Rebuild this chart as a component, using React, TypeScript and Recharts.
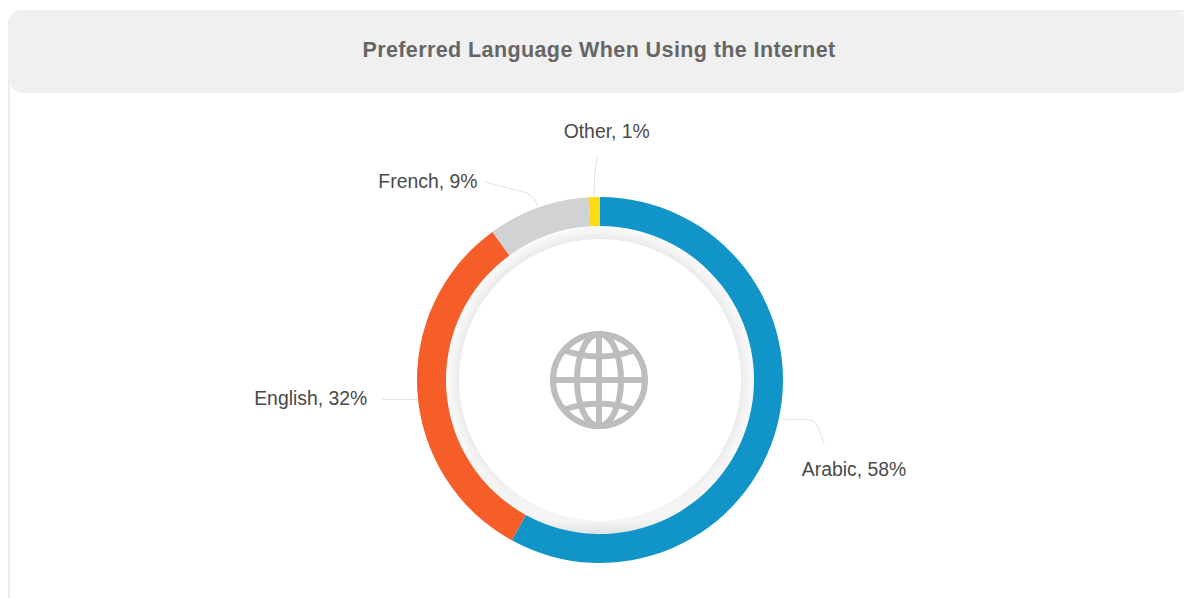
import { Pie, PieChart, Cell } from "recharts";

const languages = ["Arabic", "English", "French", "Other"];
const shares = [58, 32, 9, 1];
const colors = ["#1195c8", "#f55d29", "#d1d2d4", "#fedb11"];
const rows = languages.map((name, i) => ({ name, value: shares[i] }));
const ringData = [{ name: "ring", value: 1 }];

const RAD = Math.PI / 180;

// leader lines and label spots, relative to where the slice midpoint sits on the rim
const leaders: Record<string, { path: (x: number, y: number) => string; dx: number; dy: number; anchor: string }> = {
  Arabic: {
    path: (x, y) => `M${x + 5},${y - 6} L${x + 29},${y - 6} Q${x + 38},${y - 6} ${x + 41},${y + 2} L${x + 47},${y + 18}`,
    dx: 24.5,
    dy: 44,
    anchor: "start",
  },
  English: {
    path: (x, y) => `M${x},${y + 8} L${x - 35},${y + 8}`,
    dx: -50,
    dy: 8,
    anchor: "end",
  },
  French: {
    path: (x, y) => `M${x},${y} Q${x - 3},${y - 12} ${x - 12},${y - 15} L${x - 53},${y - 26}`,
    dx: -60.5,
    dy: -26,
    anchor: "end",
  },
  Other: {
    path: (x, y) => `M${x},${y} Q${x - 1},${y - 20} ${x + 3},${y - 40}`,
    dx: 12.5,
    dy: -65,
    anchor: "middle",
  },
};

function SliceLabel(props: any) {
  const { cx, cy, midAngle, outerRadius, name, value } = props;
  const x = cx + outerRadius * Math.cos(midAngle * RAD);
  const y = cy - outerRadius * Math.sin(midAngle * RAD);
  const l = leaders[name];
  return (
    <g>
      <path d={l.path(x, y)} fill="none" stroke="#e3e3e3" strokeWidth={1} />
      <text x={x + l.dx} y={y + l.dy} dy={6} textAnchor={l.anchor} fontSize={19.4} fill="#4a4a4a" fontFamily="Liberation Sans">
        {`${name}, ${value}%`}
      </text>
    </g>
  );
}

function Globe() {
  return (
    <svg width={100} height={100} viewBox="0 0 100 100" style={{ position: "absolute", left: 549, top: 330 }}>
      <g fill="none" stroke="#bcbdbf" strokeWidth={6}>
        <circle cx={50} cy={50} r={46} />
        <ellipse cx={50} cy={50} rx={22} ry={46} />
        <line x1={50} y1={4} x2={50} y2={96} />
        <line x1={4} y1={50} x2={96} y2={50} />
        <path d="M14,20 Q50,33 86,20" />
        <path d="M14,80 Q50,67 86,80" />
      </g>
    </svg>
  );
}

export default function App() {
  return (
    <div style={{ position: "absolute", left: 0, top: 0, width: 1184, height: 598, overflow: "hidden", background: "#fff" }}>
      <div style={{ position: "absolute", left: 8, top: 10, width: 1190, height: 600, border: "2px solid #ececec", borderRadius: 14, boxSizing: "border-box" }} />
      <div
        style={{
          position: "absolute",
          left: 9,
          top: 11,
          width: 1180,
          height: 82,
          background: "#f0f0f0",
          borderRadius: 14,
        }}
      />
      <div
        style={{
          position: "absolute",
          left: 9,
          top: 11,
          width: 1180,
          height: 78,
          lineHeight: "78px",
          textAlign: "center",
          fontFamily: "Liberation Sans",
          fontWeight: "bold",
          fontSize: 21.5,
          letterSpacing: 0.4,
          color: "#666666",
        }}
      >
        Preferred Language When Using the Internet
      </div>
      <div style={{ position: "absolute", left: 0, top: 0 }}>
        <PieChart width={1184} height={598} margin={{ top: 0, right: 0, bottom: 0, left: 0 }}>
          <defs>
            <radialGradient id="ringShade" gradientUnits="userSpaceOnUse" cx={600} cy={380} r={154}>
              <stop offset="0.915" stopColor="#ebebeb" />
              <stop offset="1" stopColor="#fbfbfb" />
            </radialGradient>
            <linearGradient id="ringBottom" gradientUnits="userSpaceOnUse" x1={0} y1={440} x2={0} y2={534}>
              <stop offset="0" stopColor="#f2f2f2" stopOpacity={0} />
              <stop offset="0.85" stopColor="#f5f5f5" stopOpacity={1} />
              <stop offset="1" stopColor="#e2e2e2" stopOpacity={1} />
            </linearGradient>
          </defs>
          <Pie
            data={ringData}
            dataKey="value"
            cx={600}
            cy={380}
            innerRadius={141}
            outerRadius={154}
            startAngle={90}
            endAngle={-270}
            stroke="none"
            fill="url(#ringShade)"
            isAnimationActive={false}
            label={false}
            labelLine={false}
          />
          <Pie
            data={ringData}
            dataKey="value"
            cx={600}
            cy={380}
            innerRadius={141}
            outerRadius={154}
            startAngle={90}
            endAngle={-270}
            stroke="none"
            fill="url(#ringBottom)"
            isAnimationActive={false}
            label={false}
            labelLine={false}
          />
          <Pie
            data={rows}
            dataKey="value"
            nameKey="name"
            cx={600}
            cy={380}
            innerRadius={154}
            outerRadius={183}
            startAngle={90}
            endAngle={-270}
            stroke="none"
            isAnimationActive={false}
            label={SliceLabel}
            labelLine={false}
          >
            {rows.map((r, i) => (
              <Cell key={r.name} fill={colors[i]} />
            ))}
          </Pie>
        </PieChart>
      </div>
      <Globe />
    </div>
  );
}
